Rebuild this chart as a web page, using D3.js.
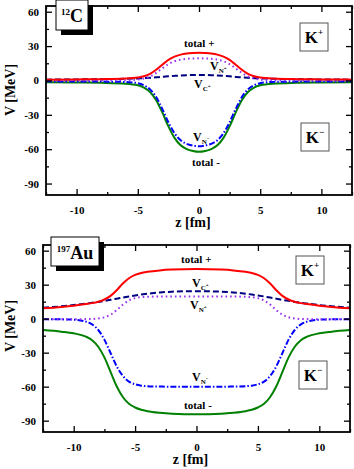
<!DOCTYPE html>
<html>
<head>
<meta charset="utf-8">
<script src="https://cdn.jsdelivr.net/npm/d3@7"></script>
<style>
  body { margin: 0; background: #fff; }
  svg { display: block; }
  text { font-family: "Liberation Serif", "Times New Roman", serif; font-weight: bold; }
</style>
</head>
<body>
<div id="chart"></div>
<script>
// ---- data ----
// 12C panel
var zC = [-12.5, -10, -8, -6, -5, -4.5, -4, -3.5, -3, -2.5, -2, -1.5, -1, -0.5, 0,
          0.5, 1, 1.5, 2, 2.5, 3, 3.5, 4, 4.5, 5, 6, 8, 10, 12.5];
var cVNplus = [0, 0, 0, 0.15, 0.8, 1.7, 3.5, 6.6, 10.6, 14.3, 16.8, 18.2, 18.9, 19.2, 19.4,
               19.2, 18.9, 18.2, 16.8, 14.3, 10.6, 6.6, 3.5, 1.7, 0.8, 0.15, 0, 0, 0];
var cVC = [0.7, 0.9, 1.1, 1.5, 1.8, 2.0, 2.3, 2.7, 3.1, 3.6, 4.0, 4.35, 4.6, 4.75, 4.8,
           4.75, 4.6, 4.35, 4.0, 3.6, 3.1, 2.7, 2.3, 2.0, 1.8, 1.5, 1.1, 0.9, 0.7];
var cTotPlus = [0.7, 0.9, 1.1, 1.65, 2.6, 3.7, 5.8, 9.3, 13.7, 17.9, 20.8, 22.55, 23.5, 23.95, 24.2,
                23.95, 23.5, 22.55, 20.8, 17.9, 13.7, 9.3, 5.8, 3.7, 2.6, 1.65, 1.1, 0.9, 0.7];
var cVNminus = [-0.8, -0.9, -1.0, -1.3, -2.4, -4.2, -7.8, -14.5, -24.8, -36.5, -46.1, -52.2, -55.3, -56.8, -57.5,
                -56.8, -55.3, -52.2, -46.1, -36.5, -24.8, -14.5, -7.8, -4.2, -2.4, -1.3, -1.0, -0.9, -0.8];
var cTotMinus = [-1.5, -1.8, -2.1, -2.8, -4.2, -6.2, -10.1, -17.2, -27.9, -40.1, -50.1, -56.55, -59.9, -61.55, -62.3,
                 -61.55, -59.9, -56.55, -50.1, -40.1, -27.9, -17.2, -10.1, -6.2, -4.2, -2.8, -2.1, -1.8, -1.5];

// 197Au panel
var zAu = [-12.5, -11, -10, -9, -8.5, -8, -7.5, -7, -6.5, -6, -5.5, -5, -4.5, -4, -3, -2, 0,
           2, 3, 4, 4.5, 5, 5.5, 6, 6.5, 7, 7.5, 8, 8.5, 9, 10, 11, 12.5];
var auVNplus = [-0.5, -0.5, -0.5, -0.4, -0.3, 0.1, 1.2, 3.5, 7.5, 12.4, 16.1, 18.1, 19.0, 19.3, 19.5, 19.5, 19.5,
                19.5, 19.5, 19.3, 19.0, 18.1, 16.1, 12.4, 7.5, 3.5, 1.2, 0.1, -0.3, -0.4, -0.5, -0.5, -0.5];
var auVC = [9.6, 10.9, 12.0, 13.3, 14.0, 14.8, 15.7, 16.6, 17.6, 18.6, 19.6, 20.5, 21.3, 22.0, 23.1, 23.8, 24.3,
            23.8, 23.1, 22.0, 21.3, 20.5, 19.6, 18.6, 17.6, 16.6, 15.7, 14.8, 14.0, 13.3, 12.0, 10.9, 9.6];
var auTotPlus = [9.1, 10.4, 11.5, 12.9, 13.7, 14.9, 16.9, 20.1, 25.1, 31.0, 35.7, 38.6, 40.3, 41.3, 42.6, 43.3, 43.8,
                 43.3, 42.6, 41.3, 40.3, 38.6, 35.7, 31.0, 25.1, 20.1, 16.9, 14.9, 13.7, 12.9, 11.5, 10.4, 9.1];
var auVNminus = [-0.5, -0.6, -0.9, -2.6, -5.0, -10, -18.5, -30.3, -42, -50.5, -55.5, -57.9, -59.1, -59.6, -59.9, -60, -60,
                 -60, -59.9, -59.6, -59.1, -57.9, -55.5, -50.5, -42, -30.3, -18.5, -10, -5.0, -2.6, -0.9, -0.6, -0.5];
var auTotMinus = [-10.1, -11.5, -12.9, -15.9, -19.0, -24.8, -34.2, -46.9, -59.6, -69.1, -75.1, -78.4, -80.4, -81.6, -83.0, -83.8, -84.3,
                  -83.8, -83.0, -81.6, -80.4, -78.4, -75.1, -69.1, -59.6, -46.9, -34.2, -24.8, -19.0, -15.9, -12.9, -11.5, -10.1];

var xTicks = [-10, -5, 0, 5, 10];
var xMinor = [-12.5, -7.5, -2.5, 2.5, 7.5, 12.5];
var yTicks = [-90, -60, -30, 0, 30, 60];
var yMinor = [-75, -45, -15, 15, 45];

var width = 354,
    height = 469;

var svg = d3.select("#chart")
    .append("svg")
    .attr("width", width)
    .attr("height", height);

var styles = {
    totMinus: { color: "#008000", dash: null },
    vnMinus: { color: "#0000ff", dash: "6,2,1.5,2" },
    vc: { color: "#000080", dash: "6,3" },
    vnPlus: { color: "#9a32f0", dash: "1.6,3" },
    totPlus: { color: "#ff0000", dash: null }
}

function drawPanel(p) {
    var g = svg.append("g")

    var x = d3.scaleLinear().domain([-12.5, 12.5]).range([p.left, p.right])
    var y = d3.scaleLinear().domain([-100, 65]).range([p.bottom, p.top])

    g.append("clipPath").attr("id", "clip-" + p.id)
        .append("rect")
        .attr("x", p.left).attr("y", p.top)
        .attr("width", p.right - p.left).attr("height", p.bottom - p.top)

    var line = d3.line()
        .x(function (d) { return x(d[0]) })
        .y(function (d) { return y(d[1]) })
        .curve(d3.curveMonotoneX)

    var lines = g.append("g").attr("clip-path", "url(#clip-" + p.id + ")")
    p.series.forEach(function (s) {
        var st = styles[s.key]
        lines.append("path")
            .datum(p.z.map(function (z, i) { return [z, s.values[i]] }))
            .attr("d", line)
            .attr("fill", "none")
            .attr("stroke", st.color)
            .attr("stroke-width", 2)
            .attr("stroke-dasharray", st.dash)
    })

    // axes, ticks pointing inward
    var fmt = function (d) { return String(d) }
    function axisStyle(sel) {
        sel.select(".domain").remove()
        sel.selectAll("line").attr("stroke", "#000").attr("stroke-width", 1.3)
        sel.selectAll("text").attr("font-size", 11).attr("fill", "#000")
            .attr("font-family", "Liberation Serif, serif").attr("font-weight", "bold")
    }
    g.append("g").attr("transform", "translate(" + p.left + ",0)")
        .call(d3.axisLeft(y).tickValues(yTicks).tickSize(-6).tickPadding(7).tickFormat(fmt)).call(axisStyle)
    g.append("g").attr("transform", "translate(" + p.left + ",0)")
        .call(d3.axisLeft(y).tickValues(yMinor).tickSize(-3).tickFormat("")).call(axisStyle)
    g.append("g").attr("transform", "translate(" + p.right + ",0)")
        .call(d3.axisRight(y).tickValues(yTicks).tickSize(-6).tickFormat("")).call(axisStyle)
    g.append("g").attr("transform", "translate(" + p.right + ",0)")
        .call(d3.axisRight(y).tickValues(yMinor).tickSize(-3).tickFormat("")).call(axisStyle)
    g.append("g").attr("transform", "translate(0," + p.bottom + ")")
        .call(d3.axisBottom(x).tickValues(xTicks).tickSize(-6).tickPadding(11).tickFormat(fmt)).call(axisStyle)
    g.append("g").attr("transform", "translate(0," + p.bottom + ")")
        .call(d3.axisBottom(x).tickValues(xMinor).tickSize(-3).tickFormat("")).call(axisStyle)
    g.append("g").attr("transform", "translate(0," + p.top + ")")
        .call(d3.axisTop(x).tickValues(xTicks).tickSize(-6).tickFormat("")).call(axisStyle)
    g.append("g").attr("transform", "translate(0," + p.top + ")")
        .call(d3.axisTop(x).tickValues(xMinor).tickSize(-3).tickFormat("")).call(axisStyle)

    g.append("rect")
        .attr("x", p.left).attr("y", p.top)
        .attr("width", p.right - p.left).attr("height", p.bottom - p.top)
        .attr("fill", "none").attr("stroke", "#000").attr("stroke-width", 1.8)

    // axis titles
    g.append("text")
        .attr("x", (p.left + p.right) / 2 - 6)
        .attr("y", p.bottom + 32)
        .attr("text-anchor", "middle")
        .attr("font-size", 14)
        .text("z [fm]")
    g.append("text")
        .attr("transform", "translate(15," + p.ylabelY + ") rotate(-90)")
        .attr("text-anchor", "middle")
        .attr("font-size", 14)
        .text("V [MeV]")

    // nucleus box with drop shadow
    var nb = p.nucleusBox
    g.append("rect").attr("x", nb.x + 5).attr("y", nb.y + 5).attr("width", nb.w).attr("height", nb.h).attr("fill", "#000")
    g.append("rect").attr("x", nb.x).attr("y", nb.y).attr("width", nb.w).attr("height", nb.h)
        .attr("fill", "#fff").attr("stroke", "#000").attr("stroke-width", 1)
    var nt = g.append("text").attr("x", nb.x + nb.w / 2).attr("y", nb.y + nb.h / 2 + 7).attr("text-anchor", "middle")
    nt.append("tspan").attr("font-size", 9).attr("dy", -7).text(p.mass)
    nt.append("tspan").attr("font-size", 18).attr("dy", 7).text(p.element)

    // K+ / K- boxes
    p.kBoxes.forEach(function (k) {
        g.append("rect").attr("x", k.x).attr("y", k.y).attr("width", 28).attr("height", 28)
            .attr("fill", "#fff").attr("stroke", "#555").attr("stroke-width", 1)
        var t = g.append("text").attr("x", k.x + 14).attr("y", k.y + 20).attr("text-anchor", "middle")
        t.append("tspan").attr("font-size", 17).text("K")
        t.append("tspan").attr("font-size", 9).attr("dy", -8).text(k.sign === "+" ? "+" : "\u2212")
    })

    // curve labels
    p.labels.forEach(function (l) {
        var t = g.append("text").attr("x", l.x).attr("y", l.y).attr("font-size", 11)
        if (l.sub) {
            t.append("tspan").attr("font-size", 12).text("V")
            t.append("tspan").attr("font-size", 7).attr("dy", 3).text(l.sub)
            t.append("tspan").attr("font-size", 5).attr("dy", -4).text(l.sup)
        } else {
            t.text(l.text)
        }
    })
}

drawPanel({
    id: "c", left: 46, right: 352, top: 6, bottom: 195, ylabelY: 90,
    z: zC, mass: "12", element: "C",
    nucleusBox: { x: 56, y: 0, w: 32, h: 30 },
    kBoxes: [{ x: 300, y: 23, sign: "+" }, { x: 301, y: 123, sign: "-" }],
    series: [
        { key: "totMinus", values: cTotMinus },
        { key: "vnMinus", values: cVNminus },
        { key: "vc", values: cVC },
        { key: "vnPlus", values: cVNplus },
        { key: "totPlus", values: cTotPlus }
    ],
    labels: [
        { text: "total +", x: 184, y: 47 },
        { sub: "N", sup: "+", x: 210, y: 70 },
        { sub: "C", sup: "+", x: 194, y: 88 },
        { sub: "N", sup: "\u2212", x: 193, y: 141 },
        { text: "total -", x: 192, y: 166 }
    ]
})

drawPanel({
    id: "au", left: 43, right: 350, top: 245, bottom: 432, ylabelY: 326,
    z: zAu, mass: "197", element: "Au",
    nucleusBox: { x: 51, y: 237, w: 48, h: 29 },
    kBoxes: [{ x: 296, y: 256, sign: "+" }, { x: 299, y: 361, sign: "-" }],
    series: [
        { key: "totMinus", values: auTotMinus },
        { key: "vnMinus", values: auVNminus },
        { key: "vc", values: auVC },
        { key: "vnPlus", values: auVNplus },
        { key: "totPlus", values: auTotPlus }
    ],
    labels: [
        { text: "total +", x: 181, y: 263 },
        { sub: "C", sup: "+", x: 192, y: 287 },
        { sub: "N", sup: "+", x: 190, y: 309 },
        { sub: "N", sup: "\u2212", x: 192, y: 381 },
        { text: "total -", x: 184, y: 409 }
    ]
})
</script>
</body>
</html>
